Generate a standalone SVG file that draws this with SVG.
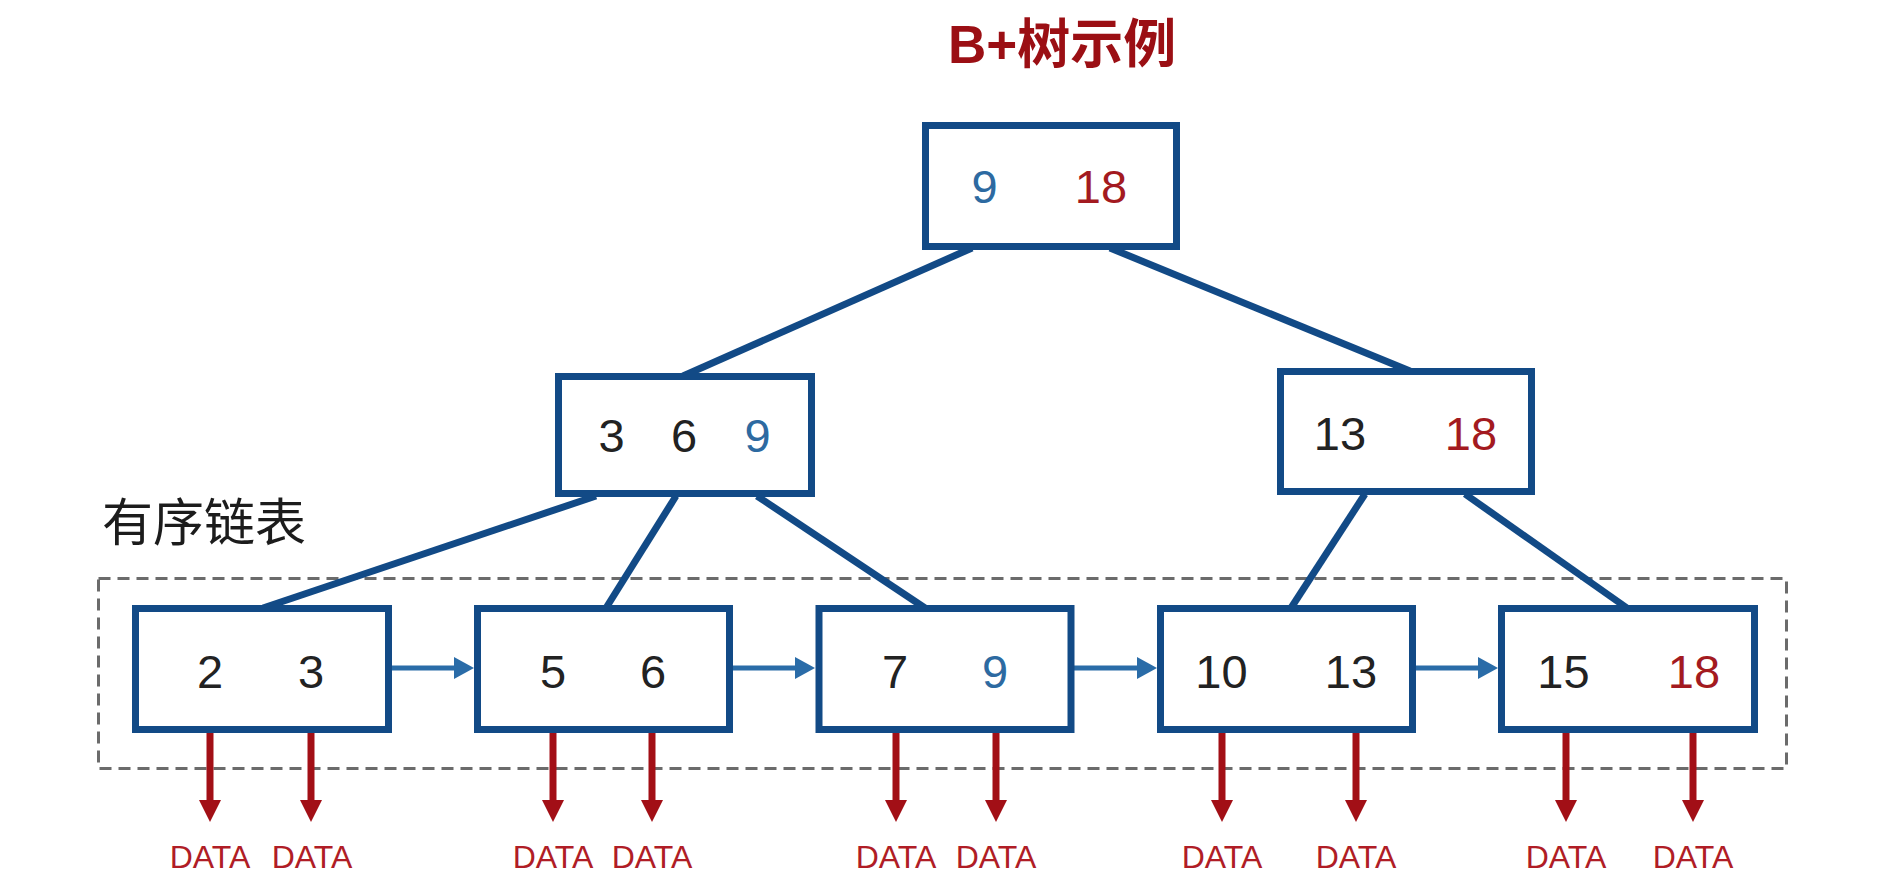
<svg xmlns="http://www.w3.org/2000/svg" width="1896" height="888" viewBox="0 0 1896 888">
<style>
.box{fill:#fff;stroke:#124a86;stroke-width:7}
.conn{stroke:#124a86;stroke-width:7;fill:none}
.link{stroke:#2a6ca8;stroke-width:5;fill:none;marker-end:url(#blueHead)}
.ptr{stroke:#a20f16;stroke-width:7;fill:none;marker-end:url(#redHead)}
.num{font-family:"Liberation Sans",Arial,sans-serif;font-size:47px;text-anchor:middle;fill:#222}
.blue{fill:#2d6aa1}
.red{fill:#a31a20}
.data{font-family:"Liberation Sans",Arial,sans-serif;font-size:32px;text-anchor:middle;fill:#b01d26}
.title{font-family:"Liberation Sans","Noto Sans CJK SC",sans-serif;font-size:53px;font-weight:bold;fill:#9b0f14}
.label{font-family:"Noto Sans CJK SC","Liberation Sans",sans-serif;font-size:51px;fill:#1c1c1c}
</style>
<defs>
<marker id="redHead" markerUnits="userSpaceOnUse" markerWidth="22" markerHeight="22" viewBox="0 0 22 22" refX="5" refY="11" orient="auto"><path d="M0,0 L22,11 L0,22 z" fill="#a20f16"/></marker>
<marker id="blueHead" markerUnits="userSpaceOnUse" markerWidth="20" markerHeight="22" viewBox="0 0 20 22" refX="6" refY="11" orient="auto"><path d="M0,0 L20,11 L0,22 z" fill="#2a6ca8"/></marker>
</defs>
<rect width="1896" height="888" fill="#fff"/>
<text class="title" x="948" y="63">B+树示例</text>
<text id="ordered-list-label" class="label" x="102" y="541">有序链表</text>
<rect id="ordered-list-frame" x="98.5" y="578.5" width="1688" height="190" fill="none" stroke="#6b6b6b" stroke-width="3" stroke-dasharray="12 7"/>
<g id="connectors">
<line class="conn" x1="972" y1="248" x2="683" y2="376"/>
<line class="conn" x1="1110" y1="248" x2="1410" y2="371"/>
<line class="conn" x1="596" y1="496" x2="263" y2="608"/>
<line class="conn" x1="676" y1="496" x2="606" y2="608"/>
<line class="conn" x1="757" y1="496" x2="925" y2="608"/>
<line class="conn" x1="1365" y1="494" x2="1291" y2="608"/>
<line class="conn" x1="1465" y1="494" x2="1627" y2="608"/>
<line class="link" x1="392" y1="668" x2="460" y2="668"/>
<line class="link" x1="733" y1="668" x2="801" y2="668"/>
<line class="link" x1="1074" y1="668" x2="1143" y2="668"/>
<line class="link" x1="1416" y1="668" x2="1484" y2="668"/>
<line class="ptr" x1="210" y1="700" x2="210" y2="805"/>
<line class="ptr" x1="311" y1="700" x2="311" y2="805"/>
<line class="ptr" x1="553" y1="700" x2="553" y2="805"/>
<line class="ptr" x1="652" y1="700" x2="652" y2="805"/>
<line class="ptr" x1="896" y1="700" x2="896" y2="805"/>
<line class="ptr" x1="996" y1="700" x2="996" y2="805"/>
<line class="ptr" x1="1222" y1="700" x2="1222" y2="805"/>
<line class="ptr" x1="1356" y1="700" x2="1356" y2="805"/>
<line class="ptr" x1="1566" y1="700" x2="1566" y2="805"/>
<line class="ptr" x1="1693" y1="700" x2="1693" y2="805"/>
</g>
<g id="root">
<rect class="box" x="925.5" y="125.5" width="251" height="121"/>
<text class="num blue" x="984.5" y="203">9</text>
<text class="num red" x="1101" y="203">18</text>
</g>
<g id="mid-left">
<rect class="box" x="558.5" y="376.5" width="253" height="117"/>
<text class="num" x="611.5" y="452">3</text>
<text class="num" x="684" y="452">6</text>
<text class="num blue" x="757.5" y="452">9</text>
</g>
<g id="mid-right">
<rect class="box" x="1280.5" y="371.5" width="251" height="120"/>
<text class="num" x="1340" y="450">13</text>
<text class="num red" x="1471" y="450">18</text>
</g>
<g id="leaf-1">
<rect class="box" x="135.5" y="608.5" width="253" height="121"/>
<text class="num" x="210" y="688">2</text>
<text class="num" x="311" y="688">3</text>
</g>
<g id="leaf-2">
<rect class="box" x="477.5" y="608.5" width="252" height="121"/>
<text class="num" x="553" y="688">5</text>
<text class="num" x="653" y="688">6</text>
</g>
<g id="leaf-3">
<rect class="box" x="819" y="608.5" width="252" height="121"/>
<text class="num" x="895" y="688">7</text>
<text class="num blue" x="995" y="688">9</text>
</g>
<g id="leaf-4">
<rect class="box" x="1160.5" y="608.5" width="252" height="121"/>
<text class="num" x="1221.5" y="688">10</text>
<text class="num" x="1351" y="688">13</text>
</g>
<g id="leaf-5">
<rect class="box" x="1501.5" y="608.5" width="253" height="121"/>
<text class="num" x="1563.5" y="688">15</text>
<text class="num red" x="1694" y="688">18</text>
</g>
<g id="data-labels">
<text class="data" x="210" y="868">DATA</text>
<text class="data" x="312" y="868">DATA</text>
<text class="data" x="553" y="868">DATA</text>
<text class="data" x="652" y="868">DATA</text>
<text class="data" x="896" y="868">DATA</text>
<text class="data" x="996" y="868">DATA</text>
<text class="data" x="1222" y="868">DATA</text>
<text class="data" x="1356" y="868">DATA</text>
<text class="data" x="1566" y="868">DATA</text>
<text class="data" x="1693" y="868">DATA</text>
</g>
</svg>
